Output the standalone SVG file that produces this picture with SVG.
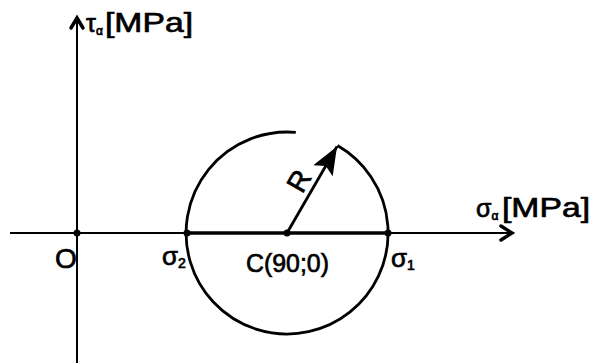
<svg xmlns="http://www.w3.org/2000/svg" width="596" height="363" viewBox="0 0 596 363">
<defs>
<style>
.ax{stroke:#000;stroke-width:2;fill:none}
.hd{stroke:#000;stroke-width:3.5;fill:none;stroke-linecap:round;stroke-linejoin:miter}
.t{font-family:"Liberation Sans",Arial,sans-serif;fill:#000;stroke:#000;stroke-width:0.7}
.dot{fill:#000}
</style>
<marker id="rh" viewBox="0 0 10 10" refX="10" refY="5" markerWidth="28" markerHeight="28" markerUnits="userSpaceOnUse" orient="auto">
<path d="M0,1 L10,5 L0,9 L2,5 Z" fill="#000"/>
</marker>
</defs>
<rect width="596" height="363" fill="#fff"/>
<g id="connectors">
<line class="ax" x1="77" y1="363" x2="77" y2="19"/>
<path class="hd" d="M71,28 L77,18 L83,28"/>
<line class="ax" x1="10" y1="233" x2="511" y2="233"/>
<path class="hd" d="M501,226 L512,233 L501,240"/>
<line x1="187" y1="233" x2="388" y2="233" stroke="#000" stroke-width="3.5"/>
<path d="M337.5,145.5 A101,101 0 1 1 295.8,132.4" stroke="#000" stroke-width="2.8" fill="none"/>
<line x1="287" y1="233" x2="337" y2="146.5" stroke="#000" stroke-width="2.8" marker-end="url(#rh)"/>
</g>
<g id="O"><circle class="dot" cx="77" cy="233" r="3.5"/><text class="t" x="55" y="268" font-size="28">O</text></g>
<g id="sigma2"><circle class="dot" cx="187" cy="233" r="3.5"/><text class="t" x="162" y="265" font-size="26">σ<tspan font-size="14" dy="3">2</tspan></text></g>
<g id="C"><circle class="dot" cx="287" cy="233" r="3.5"/><text class="t" x="246" y="272" font-size="26" textLength="83" lengthAdjust="spacingAndGlyphs">C(90;0)</text></g>
<g id="sigma1"><circle class="dot" cx="388" cy="233" r="3.5"/><text class="t" x="391" y="267" font-size="26">σ<tspan font-size="14" dy="3">1</tspan></text></g>
<g id="R"><text class="t" font-size="28" transform="translate(299,181) rotate(-60)" text-anchor="middle" dominant-baseline="central">R</text></g>
<g id="tau-label"><text class="t" x="86" y="32" font-size="25">τ<tspan font-size="12" dy="3">α</tspan></text><text class="t" x="105" y="32" font-size="28" textLength="88" lengthAdjust="spacingAndGlyphs">[MPa]</text></g>
<g id="sigma-label"><text class="t" x="476" y="217" font-size="25">σ<tspan font-size="12" dy="3">α</tspan></text><text class="t" x="502" y="217" font-size="28" textLength="88" lengthAdjust="spacingAndGlyphs">[MPa]</text></g>
</svg>
